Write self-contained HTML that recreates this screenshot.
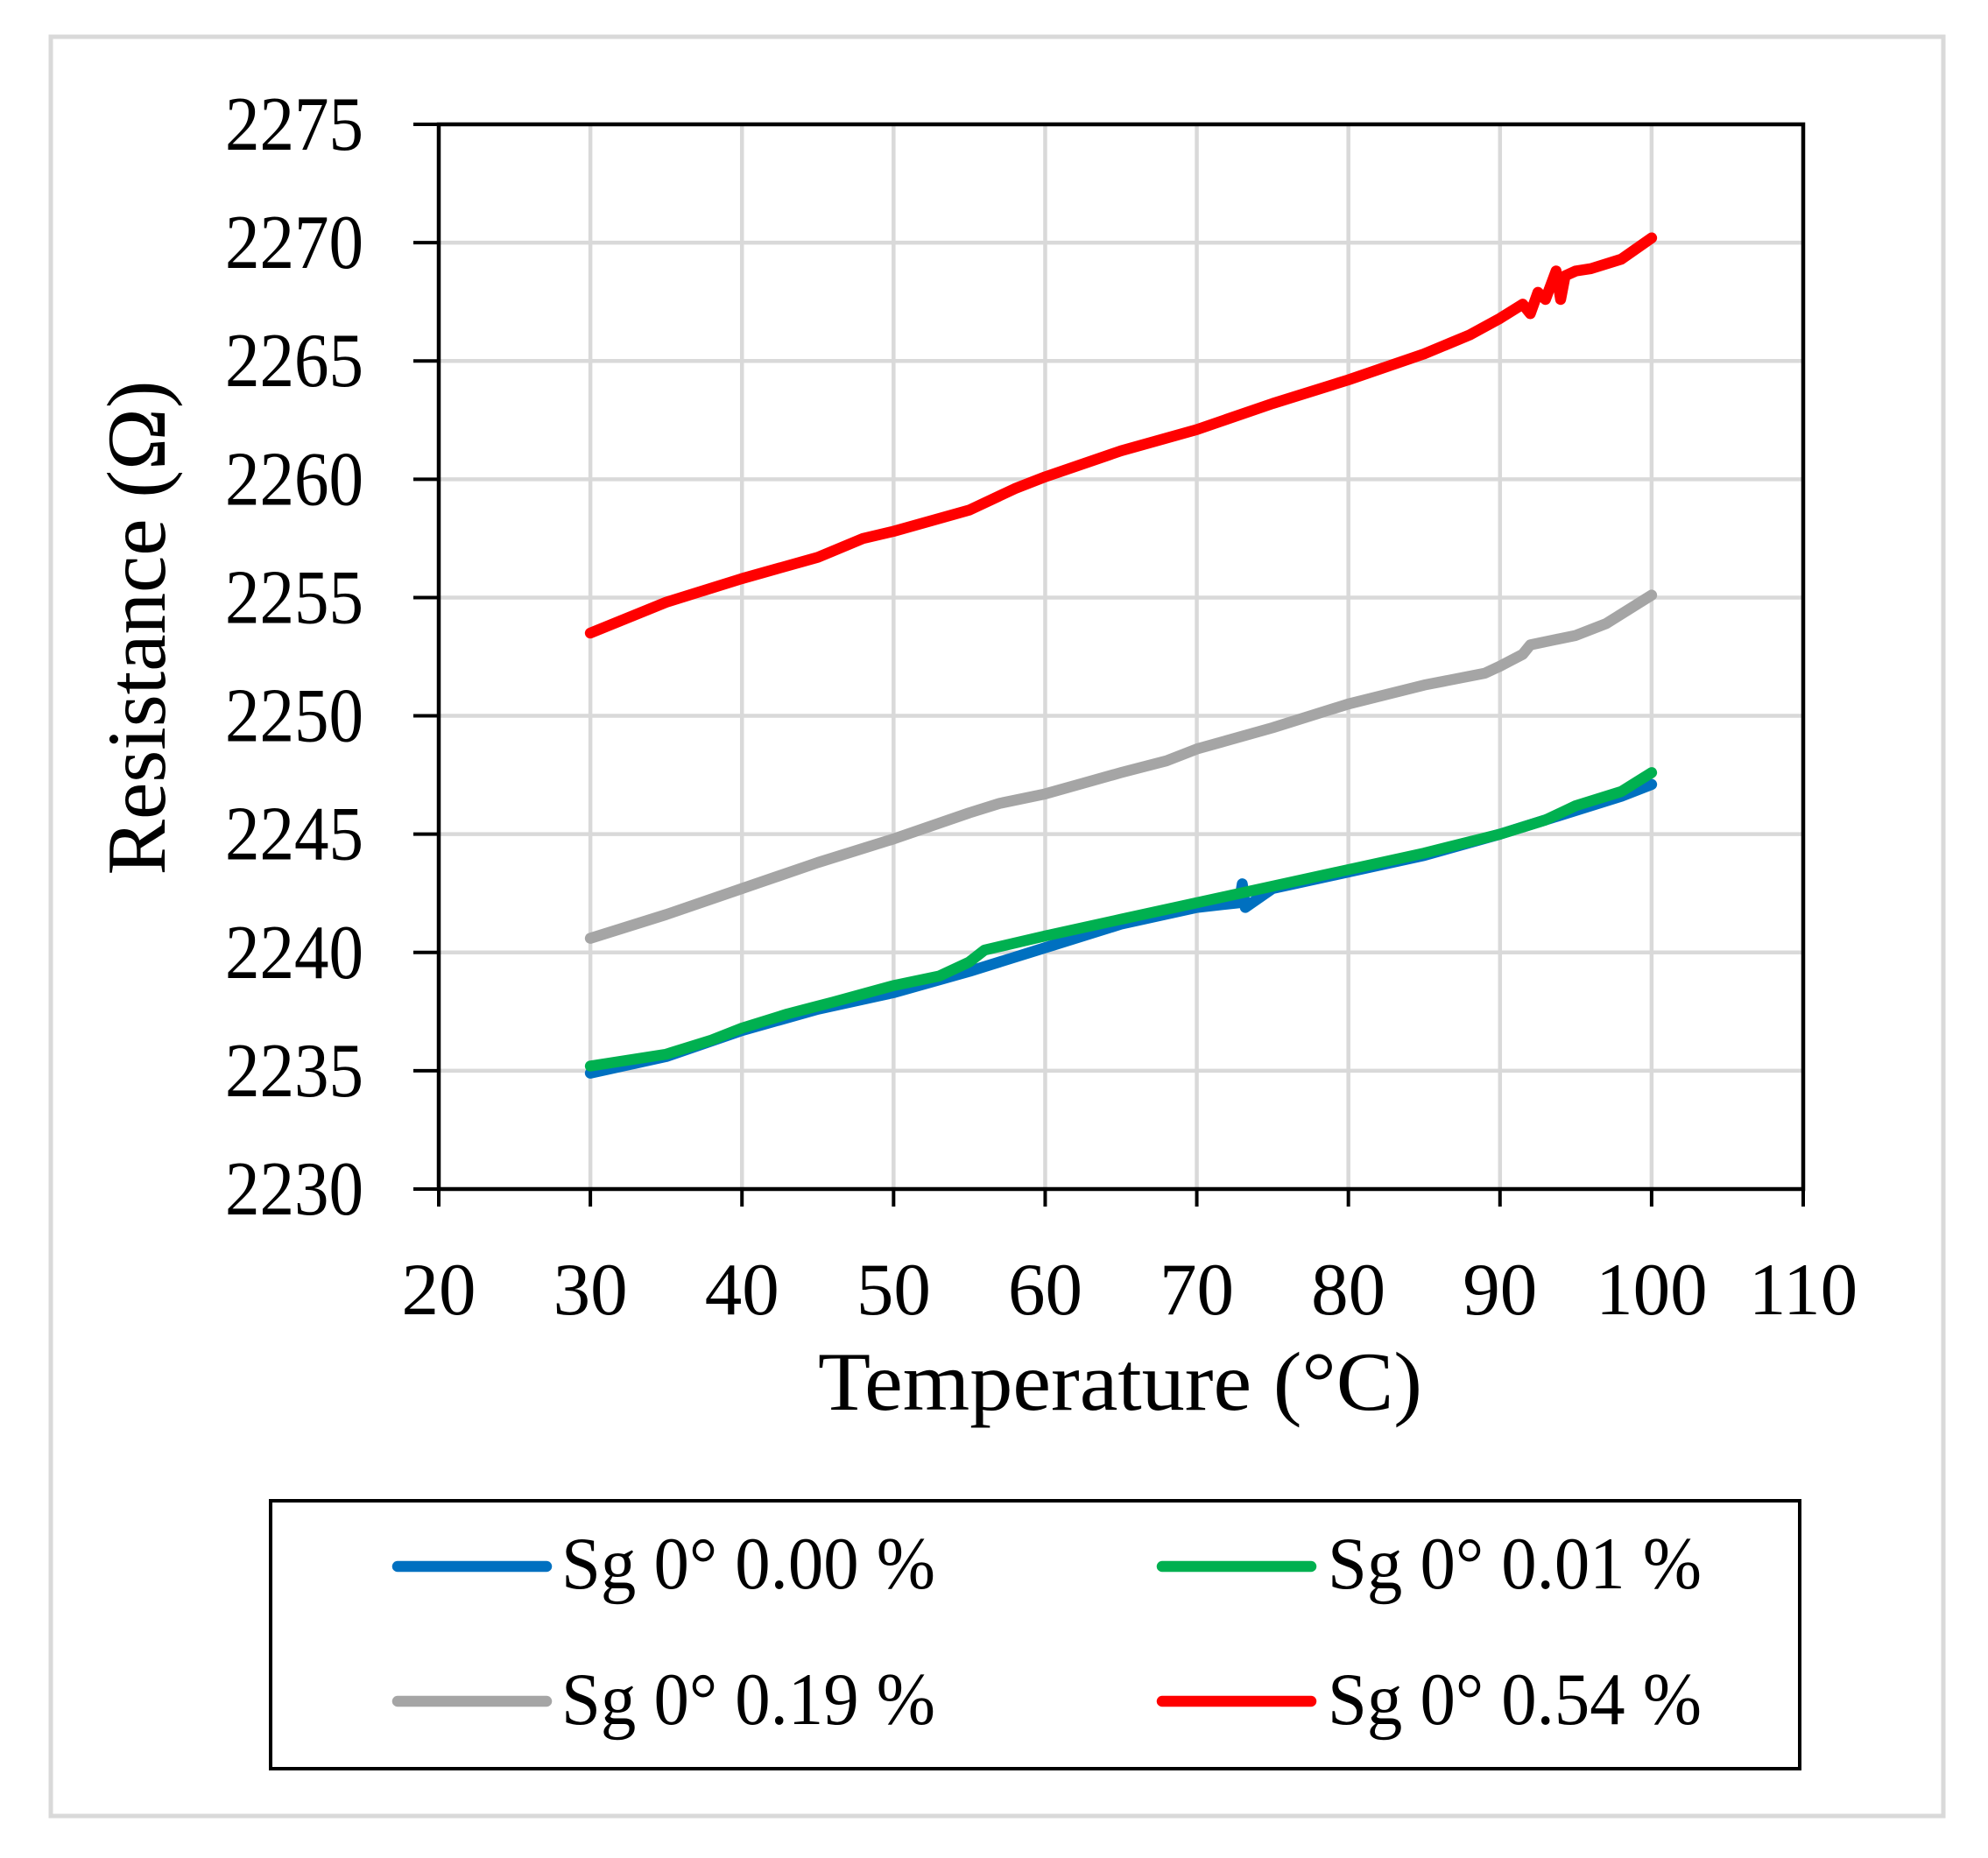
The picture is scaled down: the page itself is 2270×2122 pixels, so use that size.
<!DOCTYPE html>
<html><head><meta charset="utf-8"><style>
html,body{margin:0;padding:0;background:#fff;}
svg{display:block;}
text{font-family:"Liberation Serif",serif;fill:#000;}
</style></head><body>
<svg id="chart" width="2270" height="2122" viewBox="0 0 2270 2122" xmlns="http://www.w3.org/2000/svg">
<rect x="58" y="42" width="2161" height="2032" fill="#fff" stroke="#d9d9d9" stroke-width="5"/>
<g id="grid"></g>
<g id="series"></g>
<g id="axes"></g>
<text x="1279" y="1610" font-size="95" text-anchor="middle" textLength="690" lengthAdjust="spacingAndGlyphs">Temperature (°C)</text>
<text transform="translate(188,717) rotate(-90)" x="0" y="0" font-size="95" text-anchor="middle" textLength="565" lengthAdjust="spacingAndGlyphs">Resistance (Ω)</text>
<g>
<rect x="309" y="1714" width="1746" height="306" fill="#fff" stroke="#000" stroke-width="4"/>
<line x1="454" y1="1789" x2="624" y2="1789" stroke="#0070c0" stroke-width="12.5" stroke-linecap="round"/>
<text x="641" y="1814" font-size="85" textLength="427" lengthAdjust="spacingAndGlyphs">Sg 0° 0.00 %</text>
<line x1="1327" y1="1789" x2="1497" y2="1789" stroke="#00b050" stroke-width="12.5" stroke-linecap="round"/>
<text x="1516" y="1814" font-size="85" textLength="427" lengthAdjust="spacingAndGlyphs">Sg 0° 0.01 %</text>
<line x1="454" y1="1943" x2="624" y2="1943" stroke="#a5a5a5" stroke-width="12.5" stroke-linecap="round"/>
<text x="641" y="1969" font-size="85" textLength="427" lengthAdjust="spacingAndGlyphs">Sg 0° 0.19 %</text>
<line x1="1327" y1="1943" x2="1497" y2="1943" stroke="#ff0000" stroke-width="12.5" stroke-linecap="round"/>
<text x="1516" y="1969" font-size="85" textLength="427" lengthAdjust="spacingAndGlyphs">Sg 0° 0.54 %</text>
</g>
</svg>
<script>
const xTicks = [20,30,40,50,60,70,80,90,100,110];
const yTicks = [2230,2235,2240,2245,2250,2255,2260,2265,2270,2275];
const blueT = [30,35,40,45,50,55,60,65,70,72.8,73,73.2,75,80,85,90,95,98,100];
const blueR = [2234.9,2235.6,2236.7,2237.6,2238.3,2239.2,2240.2,2241.2,2241.9,2242.1,2242.9,2241.9,2242.7,2243.4,2244.1,2245.0,2246.0,2246.6,2247.1];
const greenT = [30,35,38,40,43,46,50,53,55,56,60,65,70,75,80,85,90,93,95,98,100];
const greenR = [2235.2,2235.7,2236.3,2236.8,2237.4,2237.9,2238.6,2239.0,2239.6,2240.1,2240.7,2241.4,2242.1,2242.8,2243.5,2244.2,2245.0,2245.6,2246.2,2246.8,2247.6];
const grayT = [30,35,40,45,50,55,57,60,65,68,70,75,80,85,89,90,91.5,92,95,97,100];
const grayR = [2240.6,2241.6,2242.7,2243.8,2244.8,2245.9,2246.3,2246.7,2247.6,2248.1,2248.6,2249.5,2250.5,2251.3,2251.8,2252.1,2252.6,2253.0,2253.4,2253.9,2255.1];
const redT = [30,35,40,45,48,50,55,58,60,65,70,75,80,85,88,90,91.5,92,92.5,93,93.7,94,94.3,95,96,98,100];
const redR = [2253.5,2254.8,2255.8,2256.7,2257.5,2257.8,2258.7,2259.6,2260.1,2261.2,2262.1,2263.2,2264.2,2265.3,2266.1,2266.8,2267.4,2267.0,2267.9,2267.6,2268.8,2267.6,2268.6,2268.8,2268.9,2269.3,2270.2];

const NS = 'http://www.w3.org/2000/svg';
const L = 501, R = 2059, T = 142, B = 1358;
const xMin = 20, xMax = 110, yMin = 2230, yMax = 2275;
function xs(v){ return L + (v - xMin) / (xMax - xMin) * (R - L); }
function ys(v){ return B - (v - yMin) / (yMax - yMin) * (B - T); }
function mk(tag, attrs, parent){ const e = document.createElementNS(NS, tag); for (const k in attrs) e.setAttribute(k, attrs[k]); parent.appendChild(e); return e; }

const grid = document.getElementById('grid');
const axes = document.getElementById('axes');
const series = document.getElementById('series');

xTicks.forEach(v => {
  if (v !== xMin && v !== xMax) {
    const g = mk('line', {x1: xs(v), x2: xs(v), y1: T, y2: B, stroke: '#d9d9d9', 'stroke-width': 4.5}, grid);
    
    
  }
  const t = mk('line', {x1: xs(v), x2: xs(v), y1: B, y2: B + 20, stroke: '#000', 'stroke-width': 4}, axes);
  
  
  const lb = mk('text', {x: xs(v), y: 1501, 'font-size': 85, 'text-anchor': 'middle'}, axes);
  lb.textContent = String(v);
  
  
});
yTicks.forEach(v => {
  if (v !== yMin && v !== yMax) {
    const g = mk('line', {x1: L, x2: R, y1: ys(v), y2: ys(v), stroke: '#d9d9d9', 'stroke-width': 4.5}, grid);
    
    
  }
  const t = mk('line', {x1: L - 29, x2: L, y1: ys(v), y2: ys(v), stroke: '#000', 'stroke-width': 4}, axes);
  
  
  const lb = mk('text', {x: 415, y: ys(v) + 29, 'font-size': 88, 'text-anchor': 'end', textLength: 158, lengthAdjust: 'spacingAndGlyphs'}, axes);
  lb.textContent = String(v);
  
  
});
const box = mk('rect', {x: L, y: T, width: R - L, height: B - T, fill: 'none', stroke: '#000', 'stroke-width': 4.5}, axes);



function drawSeries(tArr, rArr, color, name){
  const d = tArr.map((t, i) => (i ? 'L' : 'M') + xs(t).toFixed(1) + ' ' + ys(rArr[i]).toFixed(1)).join(' ');
  const p = mk('path', {d: d, fill: 'none', stroke: color, 'stroke-width': 12.5, 'stroke-linejoin': 'round', 'stroke-linecap': 'round'}, series);
  
  
}
drawSeries(grayT, grayR, '#a5a5a5', 'series-0-19');
drawSeries(redT, redR, '#ff0000', 'series-0-54');
drawSeries(blueT, blueR, '#0070c0', 'series-0-00');
drawSeries(greenT, greenR, '#00b050', 'series-0-01');
</script>
</body></html>
